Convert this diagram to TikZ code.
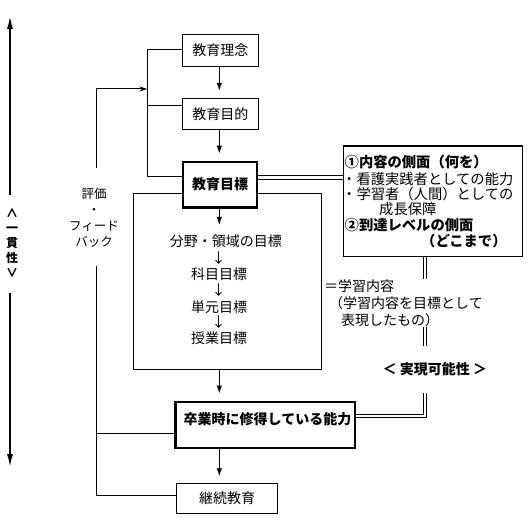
\documentclass[tikz,border=0pt]{standalone}
\usepackage{fontspec}
\setmainfont{Noto Sans CJK JP}
\usetikzlibrary{arrows.meta,calc}
\newcommand\fsmain{\fontsize{14}{16.5}\selectfont}
\newcommand\fsright{\fontsize{14.3}{16}\selectfont}
\newcommand\fssmall{\fontsize{12.5}{16}\selectfont}
\tikzset{
  thinbox/.style={draw, line width=1pt, inner sep=0pt, font=\fsmain},
  thickbox/.style={draw, line width=2.4pt, inner sep=0pt, font=\fsmain\bfseries, fill=white},
  arr/.style={-{Latex[length=8pt,width=5.5pt]}, line width=1pt, shorten >=7pt},
  barb/.style={-{Stealth[length=8pt,width=5pt]}, line width=1pt},
  bigarr/.style={-{Latex[length=14pt,width=6pt]}, line width=2pt},
  dbl/.style={double, double distance=2.6pt, line width=0.9pt},
  txt/.style={inner sep=0pt, font=\fsmain},
  rtxt/.style={inner sep=0pt, font=\fsright, anchor=west},
  conn/.style={line width=1pt}
}
\begin{document}
\begin{tikzpicture}[x=1pt,y=-1pt]
\useasboundingbox (0,0) rectangle (532,518);

% container
\node[draw, line width=1pt, minimum width=188.4pt, minimum height=176pt, inner sep=0pt] (container) at (227.5,281.3) {};

% main boxes
\node[thinbox, minimum width=76pt, minimum height=31.7pt] (rinen) at (220.3,50.2) {教育理念};
\node[thinbox, minimum width=76pt, minimum height=30.7pt] (mokuteki) at (220.3,113.7) {教育目的};
\node[thickbox, minimum width=74.4pt, minimum height=45.7pt] (mokuhyo) at (220,184.7) {教育目標};
\node[thickbox, minimum width=179.5pt, minimum height=46pt] (sotsugyo) at (265.25,424.8) {};
\node[txt, font=\fsmain\bfseries] (sotText) at (267.5,419.3) {卒業時に修得している能力};
\node[thinbox, minimum width=101.5pt, minimum height=29.5pt] (keizoku) at (227.2,498.5) {継続教育};

% inner text of container
\node[txt] (bunya) at (225.8,241.7) {分野・領域の目標};
\node[txt] (d1) at (218.5,258) {↓};
\node[txt] (kamoku) at (219,274) {科目目標};
\node[txt] (d2) at (218.5,290) {↓};
\node[txt] (tangen) at (219,306.7) {単元目標};
\node[txt] (d3) at (218.5,322) {↓};
\node[txt] (jugyo) at (219,337.7) {授業目標};

% vertical arrows
\coordinate (ax) at (219.3,0);
\draw[arr] (rinen.south -| ax) -- (mokuteki.north -| ax);
\draw[arr] (mokuteki.south -| ax) -- (mokuhyo.north -| ax);
\coordinate (innerTip) at (219.3,232);
\draw[arr] (mokuhyo.south -| ax) -- (innerTip);
\draw[arr] (container.south -| ax) -- (sotsugyo.north -| ax);
\draw[arr] (sotsugyo.south -| ax) -- (keizoku.north -| ax);

% left bracket
\coordinate (L1) at (147.3,50);
\coordinate (L2) at (147.3,105.7);
\coordinate (L3) at (147.3,176.7);
\draw[conn] (L1) -- (L3);
\draw[conn] (L1) -- (L1 -| rinen.west);
\draw[conn] (L2) -- (L2 -| mokuteki.west);
\draw[conn] (L3) -- (L3 -| mokuhyo.west);

% feedback
\coordinate (F1) at (96,168);
\coordinate (F2) at (96,89);
\draw[barb] (F1) -- (F2) -- (F2 -| L1);
\node[txt, font=\fssmall, align=center] (fb) at (94,217.5) {評価\\・\\フィード\\バック};
\coordinate (G1) at (96,266);
\coordinate (G2) at (96,433);
\coordinate (G3) at (96,495.7);
\draw[conn] (G1) -- (G3);
\draw[conn] (G2) -- (G2 -| sotsugyo.west);
\draw[conn] (G3) -- (G3 -| keizoku.west);

% right box
\node[draw, line width=1.5pt, minimum width=178.8pt, minimum height=110.7pt, inner sep=0pt] (rbox) at (432.9,201.2) {};
\node[rtxt, font=\fsright\bfseries] (r1) at (344.5,161.7) {①内容の側面（何を）};
\node[rtxt] (r2) at (342,179.3) {・看護実践者としての能力};
\node[rtxt] (r3) at (342,194.3) {・学習者（人間）としての};
\node[rtxt] (r4) at (379,209) {成長保障};
\node[rtxt, font=\fsright\bfseries] (r5) at (344.5,225) {②到達レベルの側面};
\node[rtxt, font=\fsright\bfseries] (r6) at (421,241) {（どこまで）};

% double connectors
\coordinate (Dy) at (0,177.5);
\draw[dbl] (mokuhyo.east |- Dy) -- (rbox.west |- Dy);
\coordinate (Vx) at (425,0);
\coordinate (Hy) at (0,416);
\draw[dbl] (rbox.south -| Vx) -- (Vx |- Hy) -- (sotsugyo.east |- Hy);

% labels on the double connector
\node[txt, fill=white, inner sep=1pt, anchor=north west, align=left, font=\fontsize{14}{16.8}\selectfont] (naiyo) at (323,278.5)
  {＝学習内容\\\hspace{5pt}（学習内容を目標として\\\hspace{17pt}表現したもの）};
\node[txt, fill=white, font=\fsmain\bfseries, minimum height=47pt] (jitsugen) at (434.8,369.3) {＜ 実現可能性 ＞};

% left consistency arrow
\coordinate (A0) at (10,15);
\coordinate (A1) at (10,195);
\coordinate (A2) at (10,293);
\coordinate (A3) at (10,468);
\draw[bigarr] (A1) -- (A0);
\draw[bigarr] (A2) -- (A3);
\node[txt, font=\fontsize{12}{15}\selectfont\bfseries, align=center] (ikkan) at (12,242.5) {∧\\一\\貫\\性\\∨};
\end{tikzpicture}
\end{document}
